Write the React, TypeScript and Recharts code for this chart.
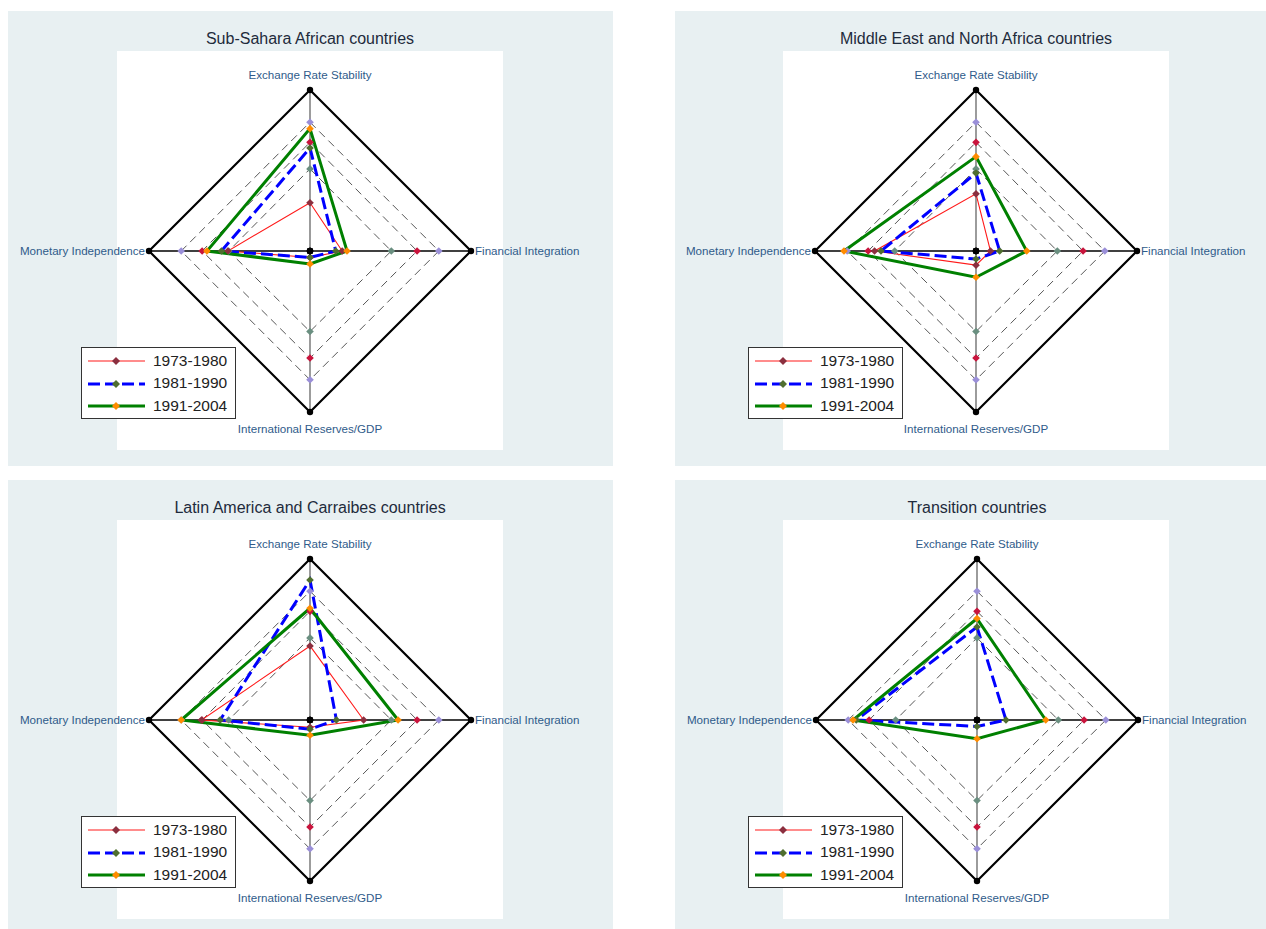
import React from 'react';
import { RadarChart, Radar, PolarGrid, PolarAngleAxis, PolarRadiusAxis } from 'recharts';

const AXES = ['Exchange Rate Stability', 'Financial Integration', 'International Reserves/GDP', 'Monetary Independence'];
const PERIODS = ['1973-1980', '1981-1990', '1991-2004'];

// reference rings (dashed), one value per axis
const REF_HIGH = [0.8, 0.8, 0.8, 0.8];
const REF_MID = [0.675, 0.665, 0.665, 0.67];
const REF_LOW = [0.51, 0.505, 0.5, 0.505];

// regional averages: ERS, FI, IR, MI
const SSA_7380 = [0.3, 0.2, 0.04, 0.51];
const SSA_8190 = [0.64, 0.16, 0.04, 0.55];
const SSA_9104 = [0.76, 0.23, 0.08, 0.64];

const MENA_7380 = [0.355, 0.09, 0.088, 0.63];
const MENA_8190 = [0.484, 0.147, 0.05, 0.59];
const MENA_9104 = [0.586, 0.315, 0.163, 0.82];

const LAC_7380 = [0.46, 0.333, 0.045, 0.674];
const LAC_8190 = [0.87, 0.164, 0.057, 0.558];
const LAC_9104 = [0.694, 0.547, 0.095, 0.8];

const TRANS_8190 = [0.578, 0.18, 0.04, 0.75];
const TRANS_9104 = [0.63, 0.427, 0.116, 0.77];

const FONT = '"Liberation Sans", Arial, sans-serif';

const SERIES_STYLE = [
  { key: 'p1', stroke: '#ff1a1a', width: 1.1, dash: undefined, marker: '#8b2f3f' },
  { key: 'p2', stroke: '#0000ff', width: 3, dash: '12 5', marker: '#4f6e2f' },
  { key: 'p3', stroke: '#008000', width: 3, dash: undefined, marker: '#ff8c00' },
];

const diamondDot = (color: string, size = 3.8) => (props: any) => {
  const { cx, cy, index } = props;
  if (cx == null || cy == null) return <g key={`d-${index}`} />;
  return (
    <path
      key={`d-${index}`}
      d={`M${cx},${cy - size}L${cx + size},${cy}L${cx},${cy + size}L${cx - size},${cy}Z`}
      fill={color}
      stroke="none"
    />
  );
};

const roundDot = (color: string, r: number) => (props: any) => {
  const { cx, cy, index } = props;
  return <circle key={`c-${index}`} cx={cx} cy={cy} r={r} fill={color} stroke="none" />;
};

const AxisTick = (props: any) => {
  const { x, y, payload } = props;
  const i = AXES.indexOf(payload.value);
  let anchor: 'middle' | 'start' | 'end' = 'middle';
  let dx = 0;
  let dy = 0;
  if (i === 0) dy = -4;
  if (i === 1) { anchor = 'start'; dx = -3; dy = 4; }
  if (i === 2) dy = 14;
  if (i === 3) { anchor = 'end'; dx = 3; dy = 4; }
  return (
    <text x={x + dx} y={y + dy} textAnchor={anchor} fontSize={11.6} fill="#2f5b8a" fontFamily={FONT}>
      {payload.value}
    </text>
  );
};

interface PanelProps {
  left: number;
  top: number;
  width: number;
  height: number;
  cx: number;
  plotLeft: number;
  title: string;
  series: (number[] | null)[];
}

const Legend = () => (
  <div
    style={{
      position: 'absolute', left: 73, top: 336, width: 153, height: 70,
      border: '1px solid #333', background: '#fff', fontFamily: FONT,
    }}
  >
    {PERIODS.map((p, i) => {
      const s = SERIES_STYLE[i];
      return (
        <div key={p} style={{ position: 'absolute', left: 0, top: 2 + i * 22.5, height: 22, width: 153 }}>
          <svg width={66} height={22} style={{ position: 'absolute', left: 3, top: 0 }}>
            <line x1={3} x2={60} y1={11} y2={11} stroke={s.stroke} strokeWidth={s.width} strokeDasharray={s.dash} />
            <path d="M31,7L35,11L31,15L27,11Z" fill={s.marker} />
          </svg>
          <span style={{ position: 'absolute', left: 71, top: 1.5, fontSize: 15.5, color: '#222', lineHeight: '18px' }}>{p}</span>
        </div>
      );
    })}
  </div>
);

const Panel = ({ left, top, width, height, cx, plotLeft, title, series }: PanelProps) => {
  const data = AXES.map((axis, i) => ({
    axis,
    p1: series[0] ? series[0][i] : 0,
    p2: series[1] ? series[1][i] : 0,
    p3: series[2] ? series[2][i] : 0,
    high: REF_HIGH[i],
    mid: REF_MID[i],
    low: REF_LOW[i],
    edge: 1,
    origin: 0,
  }));
  return (
    <div style={{ position: 'absolute', left, top, width, height, background: '#e8f0f2', overflow: 'hidden' }}>
      <div style={{ position: 'absolute', left: plotLeft, top: 40, width: 386, height: 399, background: '#fff' }} />
      <div
        style={{
          position: 'absolute', left: cx - 250, width: 500, top: 18, textAlign: 'center',
          fontFamily: FONT, fontSize: 16, lineHeight: '19px', color: '#1e2b3c',
        }}
      >
        {title}
      </div>
      <div style={{ position: 'absolute', left: 0, top: 0 }}>
        <RadarChart width={width} height={height} cx={cx} cy={240} outerRadius={161} data={data} margin={{ top: 0, right: 0, bottom: 0, left: 0 }}>
          <PolarGrid gridType="polygon" polarRadius={[]} polarAngles={[0, 180]} stroke="#000" strokeWidth={1.3} />
          <PolarGrid gridType="polygon" polarRadius={[]} polarAngles={[90, 270]} stroke="#666" strokeWidth={1.3} />
          <PolarAngleAxis dataKey="axis" tick={AxisTick} tickLine={false} axisLine={false} tickSize={7} />
          <PolarRadiusAxis domain={[0, 1]} tick={false} axisLine={false} />
          <Radar dataKey="edge" stroke="#000" strokeWidth={2.2} fill="none" fillOpacity={0} dot={roundDot('#000', 3.2)} isAnimationActive={false} />
          <Radar dataKey="high" stroke="#444" strokeWidth={0.9} strokeDasharray="8 5" fill="none" fillOpacity={0} dot={diamondDot('#9a8fd8')} isAnimationActive={false} />
          <Radar dataKey="mid" stroke="#444" strokeWidth={0.9} strokeDasharray="8 5" fill="none" fillOpacity={0} dot={diamondDot('#c8143c')} isAnimationActive={false} />
          <Radar dataKey="low" stroke="#444" strokeWidth={0.9} strokeDasharray="8 5" fill="none" fillOpacity={0} dot={diamondDot('#6a8f80')} isAnimationActive={false} />
          {SERIES_STYLE.map((s, i) =>
            series[i] ? (
              <Radar
                key={s.key}
                dataKey={s.key}
                stroke={s.stroke}
                strokeWidth={s.width}
                strokeDasharray={s.dash}
                fill="none"
                fillOpacity={0}
                dot={diamondDot(s.marker)}
                isAnimationActive={false}
              />
            ) : null
          )}
          <Radar dataKey="origin" stroke="none" fill="none" fillOpacity={0} dot={roundDot('#000', 3.2)} isAnimationActive={false} />
        </RadarChart>
      </div>
      <Legend />
    </div>
  );
};

export default function App() {
  return (
    <div style={{ position: 'absolute', left: 0, top: 0, width: 1266, height: 929, overflow: 'hidden', background: '#fff' }}>
      <Panel left={8} top={11} width={605} height={455} cx={302} plotLeft={109} title="Sub-Sahara African countries" series={[SSA_7380, SSA_8190, SSA_9104]} />
      <Panel left={675} top={11} width={591} height={455} cx={301} plotLeft={108} title="Middle East and North Africa countries" series={[MENA_7380, MENA_8190, MENA_9104]} />
      <Panel left={8} top={480} width={605} height={449} cx={302} plotLeft={109} title="Latin America and Carraibes countries" series={[LAC_7380, LAC_8190, LAC_9104]} />
      <Panel left={675} top={480} width={591} height={449} cx={302} plotLeft={108} title="Transition countries" series={[null, TRANS_8190, TRANS_9104]} />
    </div>
  );
}
